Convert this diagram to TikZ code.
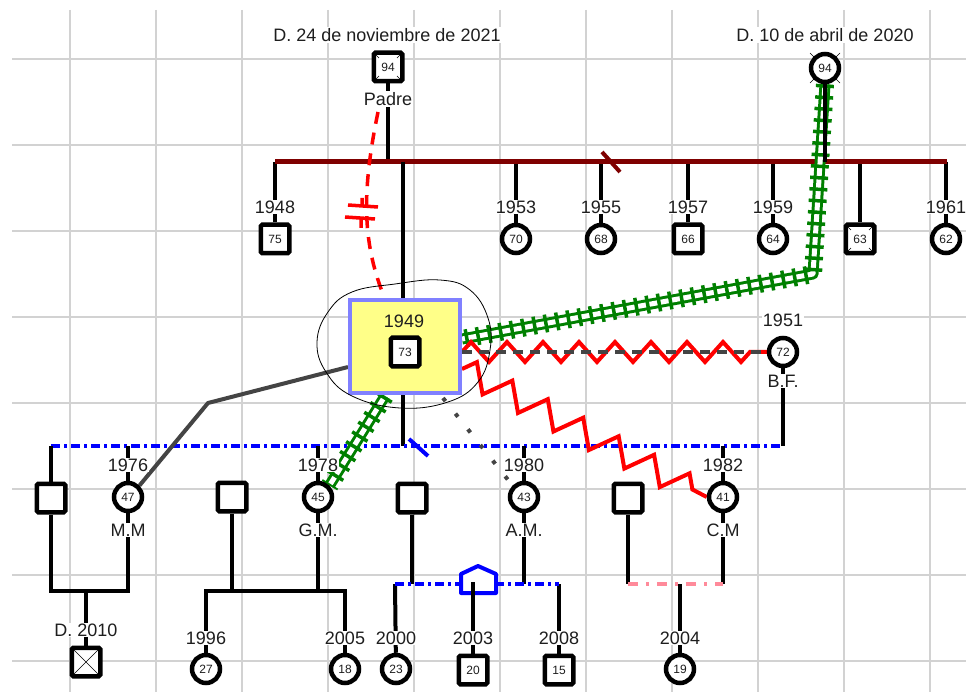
\documentclass[tikz,border=0pt]{standalone}
\usepackage{fontspec}
\setmainfont{Liberation Sans}
\usetikzlibrary{decorations.pathmorphing}
\pgfdeclarelayer{gridlayer}
\pgfdeclarelayer{background}
\pgfdeclarelayer{front}
\pgfsetlayers{gridlayer,background,main,front}

\definecolor{gridc}{HTML}{D2D2D2}
\definecolor{txt}{HTML}{1E1E1E}
\definecolor{sibred}{HTML}{7F0000}
\definecolor{railg}{HTML}{008000}
\definecolor{zred}{HTML}{FF0000}
\definecolor{dgray}{HTML}{444444}
\definecolor{lblue}{HTML}{0000FF}
\definecolor{pinkc}{HTML}{FF8A9A}
\definecolor{boxfill}{HTML}{FFFF88}
\definecolor{boxedge}{HTML}{8080FF}

\newcommand\symnumfont{\fontsize{12}{12}\selectfont}
\newcommand\lblfont{\fontsize{18}{18}\selectfont}

\begin{document}
\begin{tikzpicture}[x=1pt,y=-1pt,
  male/.style={rectangle, draw=black, line width=4.5pt, fill=white, rounded corners=1.5pt,
    minimum size=28.5pt, inner sep=0pt, font=\symnumfont, text=txt},
  female/.style={circle, draw=black, line width=4.5pt, fill=white,
    minimum size=28pt, inner sep=0pt, font=\symnumfont, text=txt},
  num/.style={fill=white, inner sep=0pt, minimum size=19pt, rounded corners=2pt,
    font=\symnumfont, text=txt},
  lbl/.style={fill=white, inner sep=1pt, font=\lblfont, text=txt},
  kin/.style={draw=black, line width=4pt},
  deadx/.style={draw=black, line width=0.6pt},
  bluedash/.style={draw=lblue, line width=4pt, dash pattern=on 9pt off 4pt on 3pt off 4pt},
  pinkdash/.style={draw=pinkc, line width=4pt, dash pattern=on 10pt off 8pt on 3pt off 8pt},
  rails/.style={draw=railg, line width=3pt, double=white, double distance=5pt, line join=round},
  ties/.style={draw=railg, line width=18pt, dash pattern=on 3.5pt off 8pt},
  zz/.style={draw=zred, line width=4pt, line join=miter, decorate,
    decoration={zigzag, segment length=36pt, amplitude=10pt}},
  zzb/.style={draw=zred, line width=4pt, line join=miter, decorate,
    decoration={zigzag, segment length=40pt, amplitude=13pt}},
  cutoff/.style={draw=zred, line width=3.5pt, dash pattern=on 12pt off 9pt},
]
\useasboundingbox (0,0) rectangle (974,692);

% ---------- grid ----------
\begin{pgfonlayer}{gridlayer}
  \fill[white] (0,0) rectangle (974,692);
  \foreach \gx in {70,156,...,930} \draw[gridc, line width=1.5pt] (\gx,10) -- (\gx,692);
  \foreach \gy in {59,145,...,661} \draw[gridc, line width=1.5pt] (12,\gy) -- (966,\gy);
\end{pgfonlayer}

% ---------- grandparents ----------
\node[male] (F) at (388,67) {};
\draw[deadx] (375,54) -- (401,80) (401,54) -- (375,80);
\node[num] (Fnum) at (F) {94};
\node[lbl] (Fd) at (387,35) {D. 24 de noviembre de 2021};
\node[lbl] (Fname) at (388,99) {Padre};

\draw[deadx] (810,53) -- (840,83) (840,53) -- (810,83);
\node[female] (M) at (825,68) {};
\node[num, circle, minimum size=18pt] (Mnum) at (M) {94};
\node[lbl] (Md) at (825,35) {D. 10 de abril de 2020};

\coordinate (sibL) at (275,162);
\coordinate (sibR) at (947,162);

% ---------- siblings ----------
\node[male]   (c48) at (275,239) {75};  \node[lbl] (y48) at (275,207) {1948};
\node[female] (c53) at (516,239) {70};  \node[lbl] (y53) at (516,207) {1953};
\node[female] (c55) at (601,239) {68};  \node[lbl] (y55) at (601,207) {1955};
\node[male]   (c57) at (688,239) {66};  \node[lbl] (y57) at (688,207) {1957};
\node[female] (c59) at (773,239) {64};  \node[lbl] (y59) at (773,207) {1959};
\node[male]   (c63) at (860,239) {};
\draw[deadx] (847,226) -- (873,252) (873,226) -- (847,252);
\node[num] (c63n) at (c63) {63};
\node[female] (c61) at (946,239) {62};  \node[lbl] (y61) at (946,207) {1961};

% ---------- index person ----------
\node[rectangle, draw=boxedge, fill=boxfill, line width=4pt, minimum width=110pt,
  minimum height=93pt, inner sep=0pt] (P) at (405,346.5) {};
\node[font=\lblfont, text=txt] (Py) at (404,321) {1949};
\node[male] (P73) at (405,352) {73};

\node[female] (W) at (783,352) {72};
\node[lbl] (Wy) at (783,320) {1951};
\node[lbl] (Wn) at (783,381) {B.F.};

% ---------- children ----------
\node[male]   (S1) at (51,498) {};
\node[female] (D1) at (128,497) {47};  \node[lbl] (D1y) at (128,465) {1976};  \node[lbl] (D1n) at (128,530) {M.M};
\node[male]   (S2) at (232,497) {};
\node[female] (D2) at (318,497) {45};  \node[lbl] (D2y) at (318,465) {1978};  \node[lbl] (D2n) at (318,530) {G.M.};
\node[male]   (S3) at (412,498) {};
\node[female] (D3) at (524,497) {43};  \node[lbl] (D3y) at (524,465) {1980};  \node[lbl] (D3n) at (524,530) {A.M.};
\node[male]   (S4) at (628,498) {};
\node[female] (D4) at (723,497) {41};  \node[lbl] (D4y) at (723,465) {1982};  \node[lbl] (D4n) at (723,530) {C.M};

% ---------- grandchildren ----------
\node[male] (G1) at (86,662) {};
\draw[deadx] (72,648) -- (100,676) (100,648) -- (72,676);
\node[lbl] (G1d) at (86,630) {D. 2010};
\node[female] (K27) at (206,669) {27};  \node[lbl] (K27y) at (206,638) {1996};
\node[female] (K18) at (345,669) {18};  \node[lbl] (K18y) at (345,638) {2005};
\node[female] (K23) at (396,669) {23};  \node[lbl] (K23y) at (396,638) {2000};
\node[male]   (K20) at (473,670) {20};  \node[lbl] (K20y) at (473,638) {2003};
\node[male]   (K15) at (559,670) {15};  \node[lbl] (K15y) at (559,638) {2008};
\node[female] (K19) at (680,669) {19};  \node[lbl] (K19y) at (680,638) {2004};

% junction points
\coordinate (pc) at (403,162);
\coordinate (blL) at (51,446);
\coordinate (blR) at (783,446);
\coordinate (u1) at (51,591);   \coordinate (u1r) at (128,591);
\coordinate (u2l) at (206,591); \coordinate (u2r) at (345,591);
\coordinate (u3l) at (395,584); \coordinate (u3r) at (559,584);
\coordinate (u4l) at (628,584); \coordinate (u4r) at (723,584);

\begin{pgfonlayer}{background}
  % parents and sibling line
  \draw[kin] (F) -- (F |- sibL);
  \draw[kin] (M) -- (M |- sibL);
  \foreach \c in {c48,c53,c55,c57,c59,c63,c61} \draw[kin] (\c) -- (\c |- sibL);
  \draw[sibred, line width=5pt] (sibL) -- (sibR);
  \draw[sibred, line width=4pt] (602,152) -- (620,172);

  % index couple and their children
  \draw[kin] (pc) -- (pc |- blL);
  \draw[kin] (W) -- (blR);
  \draw[bluedash] (blL) -- (blR);
  \foreach \c in {S1,D1,D2,D3,D4} \draw[kin] (\c |- blL) -- (\c);
  \draw[lblue, line width=4pt] (409,439) -- (428,456);

  % couple lines of the children
  \draw[kin] (S1) -- (u1) -- (u1r) -- (D1);
  \draw[kin] (G1) -- (G1 |- u1);
  \draw[kin] (S2) -- (S2 |- u2l);
  \draw[kin] (D2) -- (D2 |- u2l);
  \draw[kin] (K27) -- (u2l) -- (u2r) -- (K18);
  \draw[kin] (S3) -- (S3 |- u3l);
  \draw[kin] (D3) -- (D3 |- u3l);
  \draw[kin] (K23) -- (u3l);
  \draw[kin] (K15) -- (u3r);
  \draw[bluedash] (u3l) -- (u3r);
  \draw[lblue, line width=4pt, fill=white, line join=round]
    (461,593) -- (461,574) -- (478,566) -- (496,574) -- (496,593) -- cycle;
  \draw[kin] (K20) -- (473,582);
  \draw[kin] (S4) -- (u4l);
  \draw[kin] (D4) -- (u4r);
  \draw[kin] (K19) -- (K19 |- u4l);
  \draw[pinkdash] (u4l) -- (u4r);

  % cut-off relation with the father
  \coordinate (rd1) at (378,112);
  \coordinate (rd2) at (383,294);
  \draw[cutoff] (rd1) .. controls (362,190) and (362,240) .. (rd2);
  \draw[zred, line width=3.5pt] (348,205) -- (378,207) (362,198) -- (362,207)
                                (345,217) -- (375,219) (361,218) -- (361,228);

  % fused-hostile relations
  \coordinate (g1) at (813,274);
  \coordinate (g1e) at (462,339);
  \draw[rails] (M.south) -- (g1) -- (g1e);
  \draw[ties] (M.south) -- (g1) -- (g1e);
  \draw[kin] (M) -- (M |- sibL);
  \coordinate (g2s) at (385,396);
  \draw[rails] (g2s) -- (D2.north east);
  \draw[ties] (g2s) -- (D2.north east);

  % conflict relations
  \coordinate (z1s) at (462,352);
  \draw[zz] (z1s) -- (W.west);
  \draw[dgray, line width=4.5pt, dash pattern=on 10pt off 7pt] (z1s) -- (W.west);
  \coordinate (z2s) at (462,369);
  \draw[zzb] (z2s) -- (D4.west);

  % distant / other relations
  \coordinate (gs) at (348,367);
  \coordinate (gk) at (208,403);
  \draw[dgray, line width=4pt, line join=round] (gs) -- (gk) -- (D1.north east);
  \coordinate (gd) at (443,398);
  \draw[dgray, line width=4pt, dash pattern=on 4pt off 16pt] (gd) -- (D3.north west);
\end{pgfonlayer}

% outline around the index person
\begin{pgfonlayer}{front}
  \draw[black, line width=0.8pt] plot[smooth cycle, tension=0.7] coordinates {
    (317,342) (328,312) (352,292) (395,284) (440,280) (470,290) (488,318)
    (490,350) (478,382) (448,402) (400,408) (352,396) (326,372)};
\end{pgfonlayer}
\end{tikzpicture}
\end{document}
